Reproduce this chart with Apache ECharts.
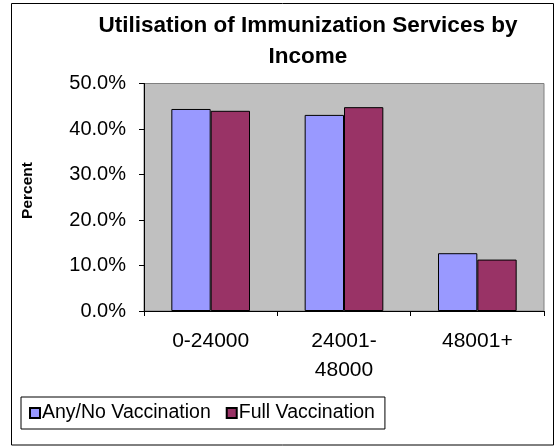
<!DOCTYPE html>
<html>
<head>
<meta charset="utf-8">
<script src="https://cdn.jsdelivr.net/npm/echarts@6/dist/echarts.min.js"></script>
<style>
  html, body { margin: 0; padding: 0; background: #fff; }
  #chart { width: 554px; height: 447px; }
</style>
</head>
<body>
<div id="chart"></div>
<script>
// Income bands and immunization shares (fractions of 1)
const categories = ['0-24000', '24001-\n48000', '48001+'];
const anyNoVaccination = [0.444, 0.431, 0.127];
const fullVaccination = [0.440, 0.448, 0.113];
const yTicks = [0, 0.1, 0.2, 0.3, 0.4, 0.5];

const FONT = '"Liberation Sans", Arial, sans-serif';

const chart = echarts.init(document.getElementById('chart'), null, { renderer: 'canvas' });

chart.setOption({
  backgroundColor: '#ffffff',
  animation: false,
  textStyle: { fontFamily: FONT, color: '#000' },
  graphic: [
    {
      type: 'rect',
      shape: { x: 11.5, y: 3.5, width: 542, height: 441.5 },
      style: { fill: 'none', stroke: '#000', lineWidth: 1 },
      silent: true,
      z: 0
    },
    {
      type: 'text',
      x: 308, y: 25.5,
      style: {
        text: 'Utilisation of Immunization Services by',
        font: 'bold 22.5px ' + FONT,
        align: 'center',
        verticalAlign: 'middle',
        fill: '#000'
      }
    },
    {
      type: 'text',
      x: 308, y: 56.5,
      style: {
        text: 'Income',
        font: 'bold 22.5px ' + FONT,
        align: 'center',
        verticalAlign: 'middle',
        fill: '#000'
      }
    },
    {
      // y-axis title, drawn beside the value axis
      type: 'text',
      x: 28, y: 190.5,
      rotation: Math.PI / 2,
      style: {
        text: 'Percent',
        font: 'bold 15.5px ' + FONT,
        align: 'center',
        verticalAlign: 'middle',
        fill: '#000'
      }
    }
  ],
  grid: {
    left: 144, right: 10, top: 83.5, bottom: 136,
    show: true,
    backgroundColor: '#C0C0C0',
    borderColor: '#808080',
    borderWidth: 1
  },
  legend: {
    left: 21, top: 397,
    padding: [6, 10, 6, 8],
    borderColor: '#000',
    borderWidth: 1,
    itemWidth: 10, itemHeight: 10,
    itemGap: 15,
    icon: 'rect',
    textStyle: { fontFamily: FONT, fontSize: 19.5, color: '#000', padding: [0, 0, 0, -3] },
    data: ['Any/No Vaccination', 'Full Vaccination']
  },
  xAxis: {
    type: 'category',
    data: categories,
    axisLine: { lineStyle: { color: '#000', width: 1 } },
    axisTick: { show: true, length: 5, alignWithLabel: false, lineStyle: { color: '#000' } },
    axisLabel: { fontSize: 21, lineHeight: 29, margin: 16, color: '#000', interval: 0 },
    splitLine: { show: false }
  },
  yAxis: {
    type: 'value',
    min: yTicks[0],
    max: yTicks[yTicks.length - 1],
    interval: 0.1,
    axisLine: { show: true, lineStyle: { color: '#000', width: 1 } },
    axisTick: { show: true, length: 5, lineStyle: { color: '#000' } },
    axisLabel: {
      fontSize: 20, margin: 18, color: '#000',
      formatter: v => (v * 100).toFixed(1) + '%'
    },
    splitLine: { show: false }
  },
  series: [
    {
      name: 'Any/No Vaccination',
      type: 'bar',
      data: anyNoVaccination,
      barGap: '0%',
      barCategoryGap: '41%',
      itemStyle: { color: '#9999FF', borderColor: '#000', borderWidth: 1 }
    },
    {
      name: 'Full Vaccination',
      type: 'bar',
      data: fullVaccination,
      itemStyle: { color: '#993366', borderColor: '#000', borderWidth: 1 }
    }
  ]
});
</script>
</body>
</html>
